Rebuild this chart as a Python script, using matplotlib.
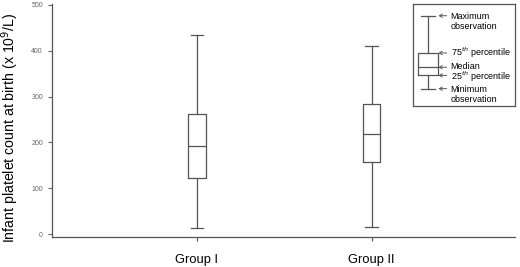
import matplotlib
matplotlib.use("Agg")
import matplotlib.pyplot as plt

plt.rcParams['font.family'] = ['Liberation Sans', 'DejaVu Sans']

# data
groups = ['Group I', 'Group II']
whis_lo = [13, 16]
q1 = [123, 158]
medians = [193, 218]
q3 = [261, 284]
whis_hi = [435, 410]

y_ticks = [0, 100, 200, 300, 400, 500]

# legend key example box (illustrative values, key axes units 0-100)
key_stats = dict(whislo=17, q1=30, med=38, q3=52, whishi=88.5)
key_labels = ['Maximum\nobservation', '75$^{th}$ percentile', 'Median',
              '25$^{th}$ percentile', 'Minimum\nobservation']

line_col = '#555555'

fig = plt.figure(figsize=(5.2, 2.67), dpi=100)
ax = fig.add_axes([0.1, 0.112, 0.89, 0.873])

stats = []
for i, g in enumerate(groups):
    stats.append(dict(label=g, whislo=whis_lo[i], q1=q1[i], med=medians[i],
                      q3=q3[i], whishi=whis_hi[i], fliers=[]))

props = dict(color=line_col, linewidth=0.9)
ax.bxp(stats, positions=[1, 2], widths=0.1, showfliers=False,
       boxprops=props, whiskerprops=props, capprops=props,
       medianprops=props, capwidths=0.07)

ax.set_xlim(0.17, 2.82)
ax.set_ylim(-6.5, 502)
ax.set_yticks(y_ticks)
ax.tick_params(axis='y', labelsize=5, colors='#666666', length=3, width=0.8)
ax.tick_params(axis='x', labelsize=9.3, length=3, width=0.8, colors=line_col,
               labelcolor='black', pad=9)
for s in ['top', 'right']:
    ax.spines[s].set_visible(False)
for s in ['left', 'bottom']:
    ax.spines[s].set_color(line_col)
    ax.spines[s].set_linewidth(0.9)
ax.set_ylabel('Infant platelet count at birth (x 10$^9$/L)', fontsize=10.2)
ax.yaxis.set_label_coords(-0.066, 0.47)

# key panel at top right
kax = fig.add_axes([413 / 520, 1 - 106 / 267, 102 / 520, 102 / 267])
kax.bxp([dict(key_stats, fliers=[])], positions=[1.47], widths=1.96,
        showfliers=False, boxprops=props, whiskerprops=props,
        capprops=props, medianprops=props, capwidths=1.37)
kax.set_xlim(0, 10)
kax.set_ylim(0, 100)
kax.set_xticks([])
kax.set_yticks([])
for s in kax.spines.values():
    s.set_color(line_col)
    s.set_linewidth(0.9)

arrow_y = [key_stats['whishi'], key_stats['q3'], key_stats['med'],
           key_stats['q1'], key_stats['whislo']]
text_y = [key_stats['whishi'] + 4, key_stats['q3'], key_stats['med'] + 1,
          key_stats['q1'] - 1, key_stats['whislo'] + 4]
text_va = ['top', 'center', 'center', 'center', 'top']
for yv, ty, va, lab in zip(arrow_y, text_y, text_va, key_labels):
    kax.annotate('', xy=(2.5, yv), xytext=(3.3, yv),
                 arrowprops=dict(arrowstyle='->,head_length=0.2,head_width=0.12',
                                 color=line_col, lw=0.7,
                                 shrinkA=0, shrinkB=0))
    kax.text(3.7, ty, lab, fontsize=6.5, va=va, ha='left', linespacing=1.25)

fig.savefig('out.png', dpi=100)
